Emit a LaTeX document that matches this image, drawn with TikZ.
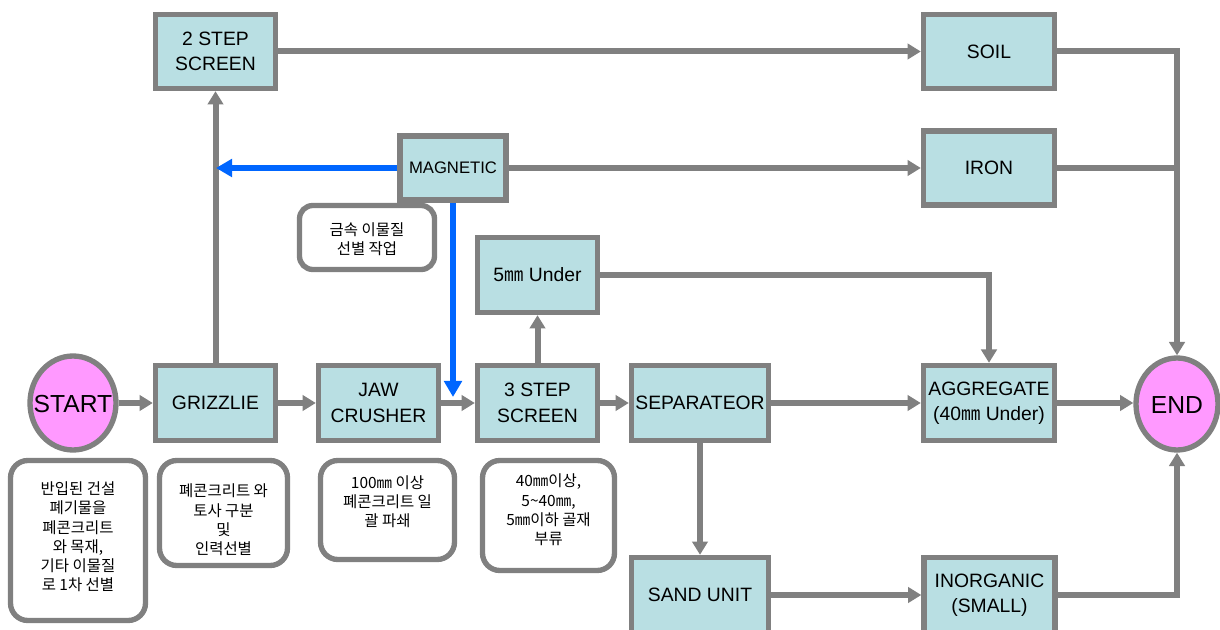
\documentclass[tikz,border=0pt]{standalone}
\usepackage{fontspec}
\setmainfont{Liberation Sans}
\newfontfamily\kr{Noto Sans CJK KR}
\usetikzlibrary{arrows.meta,shapes.geometric}
\definecolor{boxfill}{RGB}{185,223,227}
\definecolor{linegray}{RGB}{128,128,128}
\definecolor{pinkfill}{RGB}{255,153,255}
\definecolor{blueline}{RGB}{0,102,255}
\tikzset{
  sz/.style 2 args={minimum width=#1*0.75pt, minimum height=#2*0.75pt},
  box/.style={draw=linegray, line width=4pt, fill=boxfill, inner sep=0pt, align=center,
    font=\fontsize{14.5}{19}\selectfont},
  term/.style={ellipse, draw=linegray, line width=4pt, fill=pinkfill, inner sep=0pt},
  termtext/.style={inner sep=0pt, font=\fontsize{18.5}{20}\selectfont},
  notebox/.style={draw=linegray, line width=4pt, fill=white, rounded corners=13pt, inner sep=0pt},
  notetext/.style={align=center, inner sep=0pt, font=\kr\fontsize{11.6}{14.4}\selectfont},
  conn/.style={draw=linegray, line width=4.5pt},
  arr/.style={conn, -{Triangle[length=10pt, width=11.5pt]}},
  bluearr/.style={draw=blueline, line width=4.5pt, -{Triangle[length=12pt, width=13pt]}}
}
\begin{document}
\begin{tikzpicture}[x=0.75pt,y=-0.75pt]
\path[use as bounding box, clip] (0,0) rectangle (1220,630);
\fill[white] (0,0) rectangle (1220,630);

% main nodes
\node[term, sz={86}{94}] (start) at (73,403) {};
\node[termtext] (starttext) at (73,404) {START};
\node[box, sz={120}{75}] (griz) at (215.5,403) {GRIZZLIE};
\node[box, sz={120}{75}] (jaw) at (378.5,403) {JAW\\CRUSHER};
\node[box, sz={120}{75}] (three) at (537.5,403) {3 STEP\\SCREEN};
\node[box, sz={137}{75}] (sep) at (700,403) {SEPARATEOR};
\node[box, sz={131}{75}] (agg) at (989,403) {AGGREGATE\\(40{\kr ㎜} Under)};
\node[term, sz={82}{92}] (end) at (1177,404) {};
\node[termtext] (endtext) at (1177,405) {END};
\node[box, sz={120}{74}] (two) at (215.5,51.5) {2 STEP\\SCREEN};
\node[box, sz={131}{74}] (soil) at (989,51.5) {SOIL};
\node[box, sz={131}{74}] (iron) at (989,168) {IRON};
\node[box, sz={120}{75}] (five) at (537.5,275) {5{\kr ㎜} Under};
\node[box, sz={137}{75}] (sand) at (700,595) {SAND UNIT};
\node[box, sz={131}{75}] (inorg) at (989.5,595) {INORGANIC\\(SMALL)};

% note boxes
\node[notebox, sz={135}{160}] (n1) at (78,540.5) {};
\node[notetext] (t1) at (78,537) {반입된 건설\\폐기물을\\폐콘크리트\\와 목재,\\기타 이물질\\로 1차 선별};
\node[notebox, sz={128}{105}] (n2) at (223.5,513) {};
\node[notetext] (t2) at (223.5,520) {폐콘크리트 와\\토사 구분\\및\\인력선별};
\node[notebox, sz={134}{99}] (n3) at (387.5,510) {};
\node[notetext] (t3) at (387.5,502) {100㎜ 이상\\폐콘크리트 일\\괄 파쇄};
\node[notebox, sz={132}{110}] (n4) at (548.5,515.5) {};
\node[notetext] (t4) at (548.5,510) {40㎜이상,\\5\textasciitilde40㎜,\\5㎜이하 골재\\부류};
\node[notebox, sz={135}{64}, rounded corners=10pt] (nm) at (367,237.5) {};
\node[notetext] (tm) at (367,239) {금속 이물질\\선별 작업};

\node[box, sz={106}{64}, font=\fontsize{12.5}{14}\selectfont] (mag) at (453,168) {MAGNETIC};

% coordinates
\coordinate (bluetip) at (216,168);
\coordinate (bluedown) at (453,397);
\coordinate (ironjoin) at (1177,168);

% connectors
\draw[arr] (start) -- (griz);
\draw[arr] (griz) -- (jaw);
\draw[arr] (jaw) -- (three);
\draw[arr] (three) -- (sep);
\draw[arr] (sep.east) -- (agg.west);
\draw[arr] (agg.east) -- (end.west |- agg.east);
\draw[arr] (griz.north) -- (two.south);
\draw[arr] (two.east) -- (soil.west);
\draw[arr] (soil.east) -| (end.north);
\draw[conn] (iron.east) -- (ironjoin);
\draw[arr] (mag.east) -- (iron.west);
\draw[arr] (three.north) -- (five.south);
\draw[arr] (five.east) -| (agg.north);
\draw[arr] (sep.south) -- (sand.north);
\draw[arr] (sand.east) -- (inorg.west);
\draw[arr] (inorg.east) -| (end.south);
\draw[bluearr] (mag.west) -- (bluetip);
\draw[bluearr] (mag.south) -- (bluedown);
\end{tikzpicture}
\end{document}
